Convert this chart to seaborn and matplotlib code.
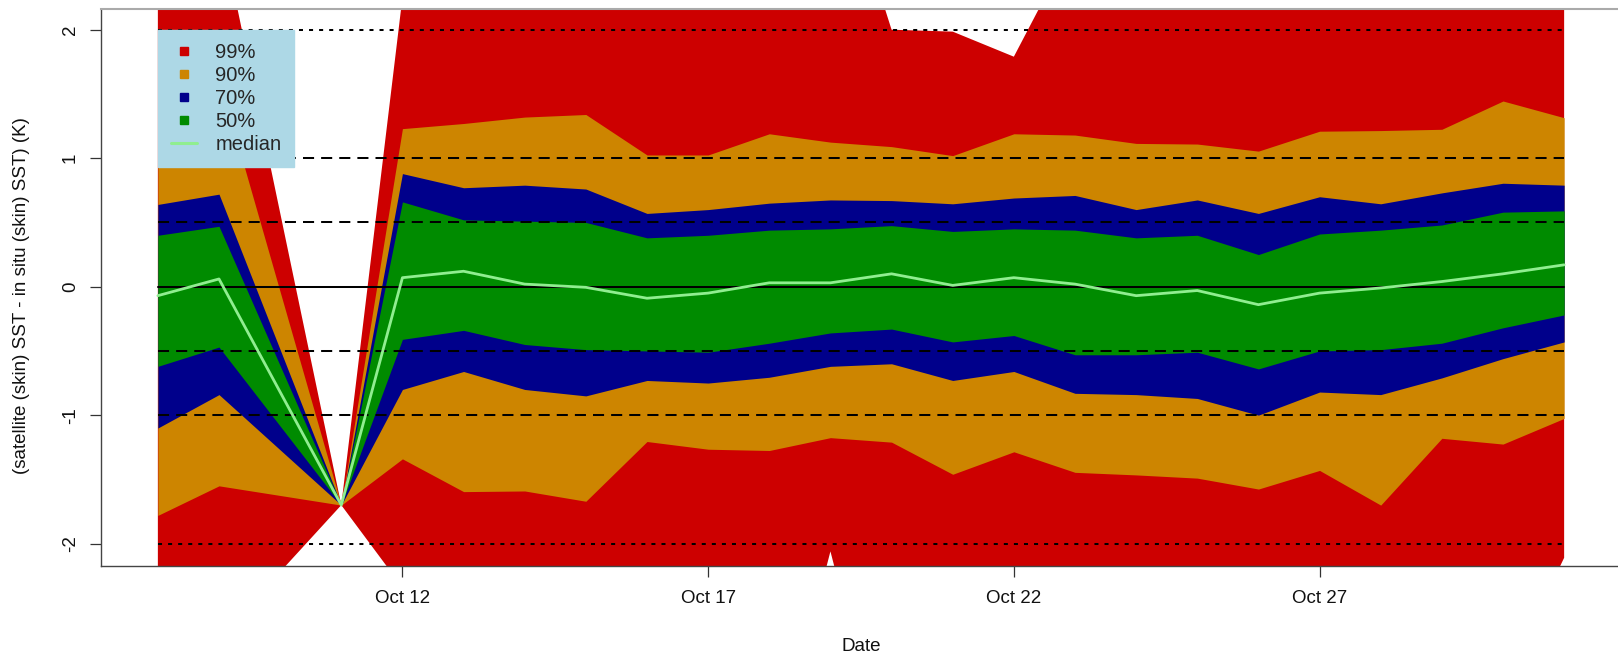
import matplotlib
matplotlib.use("Agg")
import matplotlib.pyplot as plt
import matplotlib.dates as mdates
from matplotlib.lines import Line2D
import numpy as np
import pandas as pd
import seaborn as sns

# Daily matchup statistics: satellite (skin) SST minus in situ (skin) SST, in K
dates = ["2012-10-08", "2012-10-09", "2012-10-11", "2012-10-12", "2012-10-13",
         "2012-10-14", "2012-10-15", "2012-10-16", "2012-10-17", "2012-10-18",
         "2012-10-19", "2012-10-20", "2012-10-21", "2012-10-22", "2012-10-23",
         "2012-10-24", "2012-10-25", "2012-10-26", "2012-10-27", "2012-10-28",
         "2012-10-29", "2012-10-30", "2012-10-31"]

median = [-0.07, 0.06, -1.70, 0.07, 0.12, 0.02, -0.005, -0.09, -0.05, 0.03,
          0.03, 0.10, 0.01, 0.07, 0.02, -0.07, -0.03, -0.14, -0.05, -0.01,
          0.04, 0.10, 0.17]

upper50 = [0.40, 0.47, -1.70, 0.66, 0.52, 0.51, 0.50, 0.38, 0.40, 0.44,
           0.45, 0.475, 0.43, 0.45, 0.44, 0.38, 0.40, 0.25, 0.41, 0.44,
           0.48, 0.58, 0.59]
lower50 = [-0.62, -0.47, -1.70, -0.41, -0.34, -0.45, -0.49, -0.50, -0.51, -0.44,
           -0.36, -0.33, -0.43, -0.38, -0.53, -0.53, -0.51, -0.64, -0.50, -0.49,
           -0.44, -0.32, -0.22]

upper70 = [0.64, 0.72, -1.70, 0.88, 0.77, 0.79, 0.76, 0.57, 0.60, 0.65,
           0.675, 0.67, 0.645, 0.69, 0.71, 0.60, 0.675, 0.57, 0.70, 0.645,
           0.73, 0.805, 0.79]
lower70 = [-1.10, -0.84, -1.70, -0.80, -0.66, -0.80, -0.85, -0.73, -0.75, -0.705,
           -0.62, -0.60, -0.73, -0.66, -0.83, -0.84, -0.87, -1.00, -0.82, -0.84,
           -0.71, -0.56, -0.43]

upper90 = [1.05, 1.62, -1.70, 1.23, 1.27, 1.32, 1.34, 1.025, 1.025, 1.19,
           1.125, 1.09, 1.02, 1.19, 1.18, 1.115, 1.11, 1.055, 1.21, 1.215,
           1.225, 1.445, 1.315]
lower90 = [-1.78, -1.55, -1.70, -1.34, -1.595, -1.59, -1.67, -1.205, -1.265, -1.275,
           -1.175, -1.21, -1.46, -1.285, -1.445, -1.465, -1.49, -1.575, -1.43, -1.70,
           -1.18, -1.225, -1.025]

upper99 = [2.60, 2.85, -1.70, 2.25, 2.60, 2.70, 2.80, 2.50, 2.40, 2.60,
           3.50, 2.00, 1.985, 1.79, 2.70, 2.60, 2.50, 2.40, 2.60, 2.70,
           2.50, 2.80, 2.60]
lower99 = [-2.60, -2.74, -1.70, -2.34, -2.60, -2.70, -2.80, -2.50, -2.60, -3.90,
           -2.06, -3.90, -2.60, -2.70, -2.60, -2.70, -2.60, -2.80, -2.60, -2.70,
           -2.60, -3.10, -2.11]

band_labels = ["99%", "90%", "70%", "50%"]
band_colors = ["#CD0000", "#CD8500", "#00008B", "#008B00"]
median_color = "#90EE90"

ref_levels = [0.0, 0.5, -0.5, 1.0, -1.0, 2.0, -2.0]
tick_dates = ["2012-10-12", "2012-10-17", "2012-10-22", "2012-10-27"]
tick_labels = ["Oct 12", "Oct 17", "Oct 22", "Oct 27"]
ytick_values = [-2, -1, 0, 1, 2]

sns.set_style("white")
plt.rcParams["font.family"] = ["Liberation Sans", "DejaVu Sans"]

df = pd.DataFrame({
    "date": pd.to_datetime(dates),
    "median": median,
    "lower99": lower99, "upper99": upper99,
    "lower90": lower90, "upper90": upper90,
    "lower70": lower70, "upper70": upper70,
    "lower50": lower50, "upper50": upper50,
})

fig = plt.figure(figsize=(16.18, 6.56), dpi=100)
ax = fig.add_axes([101 / 1618, 90.5 / 656, 1520 / 1618, 557 / 656])

# Nested quantile envelopes, widest first
bands = [("lower99", "upper99"), ("lower90", "upper90"),
         ("lower70", "upper70"), ("lower50", "upper50")]
for (lo, hi), col in zip(bands, band_colors):
    ax.fill_between(df["date"], df[lo], df[hi], color=col, linewidth=0, zorder=1)

# Reference levels
x0, x1 = df["date"].iloc[0], df["date"].iloc[-1]
for lvl in ref_levels:
    if lvl == 0:
        ls = "-"
    elif abs(lvl) == 2:
        ls = (0, (2, 3))
    else:
        ls = (0, (5.5, 3.5))
    ax.plot([x0, x1], [lvl, lvl], color="black", linewidth=1.45,
            linestyle=ls, zorder=2)

sns.lineplot(data=df, x="date", y="median", color=median_color,
             linewidth=2.0, ax=ax, zorder=3)

xnum = mdates.date2num(df["date"])
ax.set_xlim(xnum[0] - 0.93, xnum[-1] + 0.93)
ax.set_ylim(-2.17, 2.165)

ax.set_xticks(mdates.date2num(pd.to_datetime(tick_dates)))
ax.set_xticklabels(tick_labels)
ax.set_yticks(ytick_values)
ax.set_yticklabels([str(v) for v in ytick_values], rotation=90, va="center")
ax.tick_params(axis="both", direction="out", length=7.9, width=0.9,
               color="#333333", labelsize=13.5, labelcolor="#111111")
ax.tick_params(axis="x", pad=10, bottom=True)
ax.tick_params(axis="y", pad=8, left=True)

for side, sp in ax.spines.items():
    sp.set_visible(True)
    sp.set_linewidth(1.0)
    sp.set_color("#444444")
ax.spines["top"].set_color("#aaaaaa")
ax.spines["top"].set_linewidth(1.5)

ax.set_xlabel("Date", fontsize=13.5, color="#111111", va="center")
ax.xaxis.set_label_coords(0.5, -0.146)
ax.set_ylabel("(satellite (skin) SST - in situ (skin) SST) (K)",
              fontsize=13.5, color="#111111", va="center")
ax.yaxis.set_label_coords(-0.052, 0.485)

handles = [Line2D([], [], linestyle="none", marker="s", markersize=6,
                  markerfacecolor=c, markeredgecolor=c) for c in band_colors]
handles.append(Line2D([], [], color=median_color, linewidth=2.2))
leg = ax.legend(handles, band_labels + ["median"], loc="upper left",
                bbox_to_anchor=(xnum[0], 2.0), bbox_transform=ax.transData,
                borderaxespad=0, fontsize=14.5, frameon=True, fancybox=False,
                facecolor="#ADD8E6", edgecolor="#ADD8E6", framealpha=1,
                borderpad=0.65, labelspacing=0.2, handlelength=1.3,
                handletextpad=0.9)
leg.set_zorder(5)

fig.savefig("out.png", dpi=100)
